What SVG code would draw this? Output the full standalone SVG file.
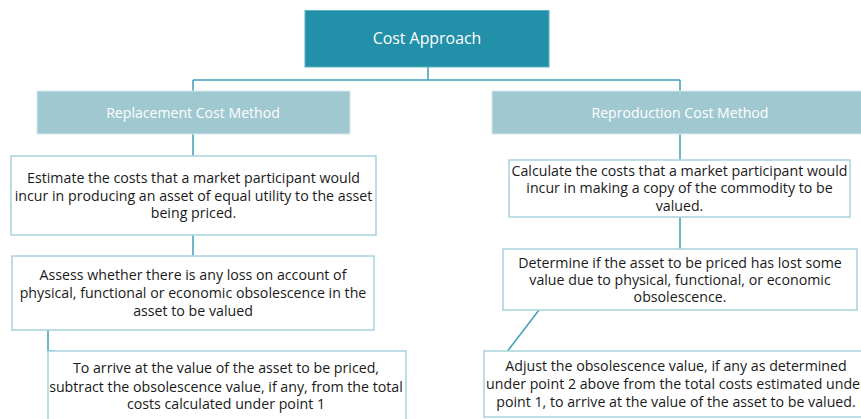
<svg xmlns="http://www.w3.org/2000/svg" width="861" height="419" viewBox="0 0 861 419">
<style>
.b{fill:#fff;stroke:#A6D3DC;stroke-width:1.5}
.m{fill:#A0C8D1;stroke:#D6EAEE;stroke-width:1}
.t{font-family:"Open Sans","Noto Sans",sans-serif;font-size:14.2px;fill:#1a1a1a;text-anchor:middle}
.w{font-family:"Open Sans","Noto Sans",sans-serif;font-size:14.1px;fill:#fff;text-anchor:middle}
.c{fill:none;stroke:#3DA0B3;stroke-width:1.5}
</style>
<rect width="861" height="419" fill="#fff"/>
<g id="connectors">
<path class="c" d="M428 67V80M193 80H680M193 80V91M680 80V91"/>
<path class="c" d="M193 134V156M193 235V256M48 330V351H55"/>
<path class="c" d="M680 134V160M680 217V249M539 310L484 382"/>
</g>
<g id="root">
<rect x="305" y="10.5" width="244" height="56.5" fill="#2290A8" stroke="#5FB0C2" stroke-width="1"/>
<text class="w" x="427" y="44" style="font-size:15.9px">Cost Approach</text>
</g>
<g id="replacement">
<rect class="m" x="37" y="91" width="313" height="43"/>
<text class="w" x="193" y="118">Replacement Cost Method</text>
</g>
<g id="reproduction">
<rect class="m" x="492" y="91" width="375" height="43"/>
<text class="w" x="680" y="118">Reproduction Cost Method</text>
</g>
<g id="l1">
<rect class="b" x="11" y="156" width="365" height="79"/>
<text class="t" x="193.5" y="183">Estimate the costs that a market participant would</text>
<text class="t" x="193.5" y="201">incur in producing an asset of equal utility to the asset</text>
<text class="t" x="193.5" y="218">being priced.</text>
</g>
<g id="l2">
<rect class="b" x="12" y="256" width="362" height="74"/>
<text class="t" x="193" y="280">Assess whether there is any loss on account of</text>
<text class="t" x="193" y="298">physical, functional or economic obsolescence in the</text>
<text class="t" x="193" y="316">asset to be valued</text>
</g>
<g id="l3">
<rect class="b" x="48" y="351" width="358" height="80"/>
<text class="t" x="226" y="373">To arrive at the value of the asset to be priced,</text>
<text class="t" x="226" y="392">subtract the obsolescence value, if any, from the total</text>
<text class="t" x="226" y="409">costs calculated under point 1</text>
</g>
<g id="r1">
<rect class="b" x="509" y="160" width="341" height="57"/>
<text class="t" x="679.5" y="176">Calculate the costs that a market participant would</text>
<text class="t" x="679.5" y="193">incur in making a copy of the commodity to be</text>
<text class="t" x="679.5" y="211">valued.</text>
</g>
<g id="r2">
<rect class="b" x="503" y="249" width="354" height="61"/>
<text class="t" x="680" y="268">Determine if the asset to be priced has lost some</text>
<text class="t" x="680" y="285">value due to physical, functional, or economic</text>
<text class="t" x="680" y="302">obsolescence.</text>
</g>
<g id="r3">
<rect class="b" x="484" y="351" width="384" height="66"/>
<text class="t" x="676" y="371">Adjust the obsolescence value, if any as determined</text>
<text class="t" x="676" y="389">under point 2 above from the total costs estimated under</text>
<text class="t" x="676" y="407">point 1, to arrive at the value of the asset to be valued.</text>
</g>
</svg>
